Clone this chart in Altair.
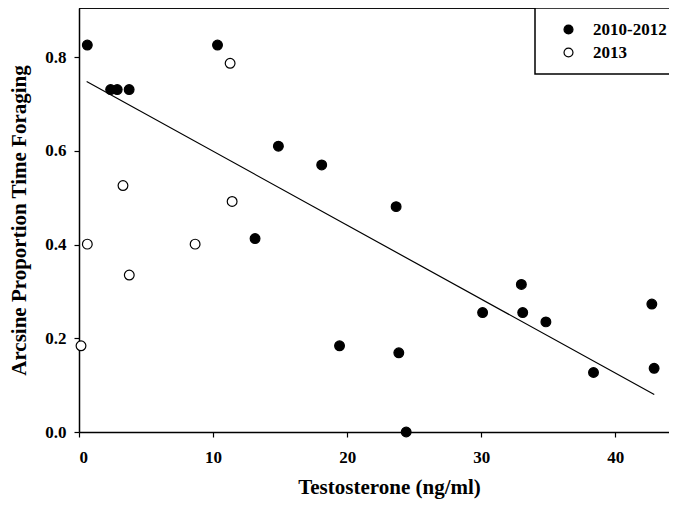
import altair as alt
import pandas as pd

# 2010-2012 (filled circles)
x_2010 = [0.62, 2.36, 2.85, 3.74, 10.33, 13.13, 14.87, 18.1, 19.43, 23.65,
          23.85, 24.4, 30.1, 32.99, 33.09, 34.82, 38.37, 42.72, 42.89]
y_2010 = [0.826, 0.731, 0.731, 0.731, 0.826, 0.413, 0.61, 0.57, 0.184, 0.481,
          0.169, 0.0, 0.255, 0.315, 0.255, 0.235, 0.127, 0.273, 0.136]

# 2013 (open circles)
x_2013 = [0.15, 0.62, 3.28, 3.75, 8.66, 11.27, 11.42]
y_2013 = [0.184, 0.401, 0.526, 0.335, 0.401, 0.787, 0.492]

# regression line end points
fit_x = [0.57, 42.9]
fit_y = [0.748, 0.080]

groups = ["2010-2012", "2013"]
x_ticks = [0, 10, 20, 30, 40]
y_ticks = [0.0, 0.2, 0.4, 0.6, 0.8]

pts = pd.DataFrame({
    "T": x_2010 + x_2013,
    "A": y_2010 + y_2013,
    "period": [groups[0]] * len(x_2010) + [groups[1]] * len(x_2013),
})
fit = pd.DataFrame({"T": fit_x, "A": fit_y})

FONT = "Liberation Serif"
W, H = 590, 424

xs = alt.Scale(domain=[0, 44], nice=False, zero=False)
ys = alt.Scale(domain=[0, 0.905], nice=False, zero=False)

xaxis = alt.Axis(values=x_ticks, grid=False, title="Testosterone (ng/ml)",
                 tickSize=5, labelPadding=12, titlePadding=11, titleX=310)
yaxis = alt.Axis(values=y_ticks, grid=False, format=".1f",
                 title="Arcsine Proportion Time Foraging",
                 tickSize=5, labelPadding=8, titlePadding=15)

top = alt.Chart(fit).mark_rule(color="black", strokeWidth=1.5).encode(
    x=alt.value(0), x2=alt.value(W), y=alt.value(0)
)

line = alt.Chart(fit).mark_line(color="black", strokeWidth=1.2).encode(
    x=alt.X("T:Q", scale=xs, axis=xaxis),
    y=alt.Y("A:Q", scale=ys, axis=yaxis),
)

points = alt.Chart(pts).mark_point(
    shape="circle", filled=True, stroke="black", strokeWidth=1.2, size=95, opacity=1
).encode(
    x=alt.X("T:Q", scale=xs, axis=xaxis),
    y=alt.Y("A:Q", scale=ys, axis=yaxis),
    fill=alt.Fill("period:N",
                  scale=alt.Scale(domain=groups, range=["black", "white"]),
                  legend=alt.Legend(title=None, orient="none", legendX=456, legendY=0)),
)

chart = alt.layer(top, line, points).properties(
    width=W, height=H,
    autosize=alt.AutoSizeParams(type="none"),
    padding={"left": 71, "top": 0, "right": 0, "bottom": 75},
).configure_view(
    stroke=None
).configure_axis(
    domainColor="black", domainWidth=1.5, tickColor="black", tickWidth=1.2,
    labelFont=FONT, labelFontSize=17, labelFontWeight="bold", labelColor="black",
    titleFont=FONT, titleFontSize=21, titleFontWeight="bold", titleColor="black",
).configure_legend(
    padding=13, strokeColor="black", strokeWidth=1.5, fillColor="white",
    symbolOffset=12, labelOffset=16, symbolSize=80, symbolStrokeColor="black",
    symbolStrokeWidth=1.2, rowPadding=5,
    labelFont=FONT, labelFontSize=17, labelFontWeight="bold", labelColor="black",
)

chart.save("out.html", embed_options={"renderer": "svg", "actions": False})
